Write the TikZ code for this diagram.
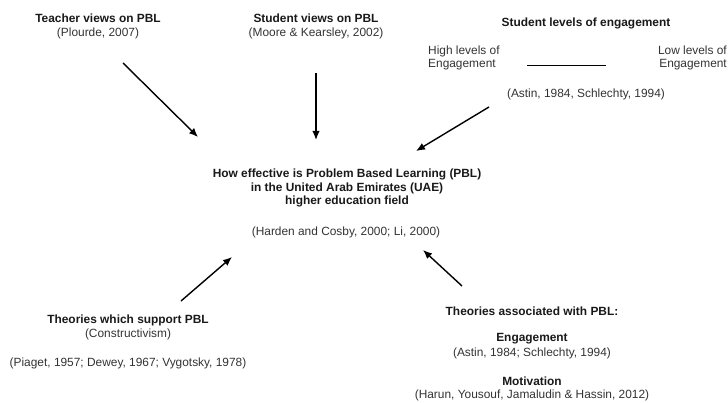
\documentclass[tikz,border=0pt]{standalone}
\usepackage{fontspec}
\setmainfont{Liberation Sans}
\usepackage{xcolor}
\usetikzlibrary{arrows.meta}

\begin{document}
\begin{tikzpicture}[x=1pt, y=-1pt]
    	\tikzstyle{head}=[font=\fontsize{11.9}{13.5}\selectfont\bfseries, text=black!90, inner sep=0pt, align=center]
    	\tikzstyle{cite}=[font=\fontsize{11.9}{13.5}\selectfont, text=black!80, inner sep=0pt, align=center]
    	\tikzstyle{arrow}=[-{Latex[length=9pt, width=7.5pt]}, line width=1.4pt]
    	
    	\useasboundingbox (0,0) rectangle (728,403);
    	
    	% Top row
    	\node at (98, 18) [head] (teacher) {Teacher views on PBL};
    	\node at (98, 33) [cite] (teacher_cite) {(Plourde, 2007)};
    	\node at (316, 18) [head] (student) {Student views on PBL};
    	\node at (316, 33) [cite] (student_cite) {(Moore \& Kearsley, 2002)};
    	\node at (586, 23) [head] (levels) {Student levels of engagement};
    	\node at (428, 58) [cite, anchor=west, align=left] (high) {High levels of\\Engagement};
    	\node at (727, 58) [cite, anchor=east, align=right] (low) {Low levels of\\Engagement};
    	\node at (586, 94) [cite] (levels_cite) {(Astin, 1984, Schlechty, 1994)};
    	\coordinate (scale_1) at (527, 65);
    	\coordinate (scale_2) at (606, 65);
    	\draw [line width=0.8pt] (scale_1) -- (scale_2);
    	
    	% Centre
    	\node at (347, 188) [head] (question) {How effective is Problem Based Learning (PBL)\\in the United Arab Emirates (UAE)\\higher education field};
    	\node at (346, 232) [cite] (question_cite) {(Harden and Cosby, 2000; Li, 2000)};
    	
    	% Bottom row
    	\node at (128, 320) [head] (support) {Theories which support PBL};
    	\node at (128, 334) [cite] (support_sub) {(Constructivism)};
    	\node at (128, 363) [cite] (support_cite) {(Piaget, 1957; Dewey, 1967; Vygotsky, 1978)};
    	\node at (532, 311) [head] (assoc) {Theories associated with PBL:};
    	\node at (532, 339) [head] (engage) {Engagement};
    	\node at (532, 353) [cite] (engage_cite) {(Astin, 1984; Schlechty, 1994)};
    	\node at (532, 381) [head] (motiv) {Motivation};
    	\node at (532, 395) [cite] (motiv_cite) {(Harun, Yousouf, Jamaludin \& Hassin, 2012)};
    	
    	% Arrows
    	\coordinate (a_teacher) at (123, 63);
    	\coordinate (b_teacher) at (198, 137);
    	\coordinate (a_student) at (316, 73);
    	\coordinate (b_student) at (316, 140);
    	\coordinate (a_levels) at (489, 107);
    	\coordinate (b_levels) at (416, 151);
    	\coordinate (a_support) at (181, 301);
    	\coordinate (b_support) at (232, 257);
    	\coordinate (a_assoc) at (462, 286);
    	\coordinate (b_assoc) at (423, 250);
    	
    	\draw [arrow] (a_teacher) to (b_teacher);
    	\draw [arrow] (a_student) to (b_student);
    	\draw [arrow] (a_levels) to (b_levels);
    	\draw [arrow] (a_support) to (b_support);
    	\draw [arrow] (a_assoc) to (b_assoc);

    \end{tikzpicture}
\end{document}
